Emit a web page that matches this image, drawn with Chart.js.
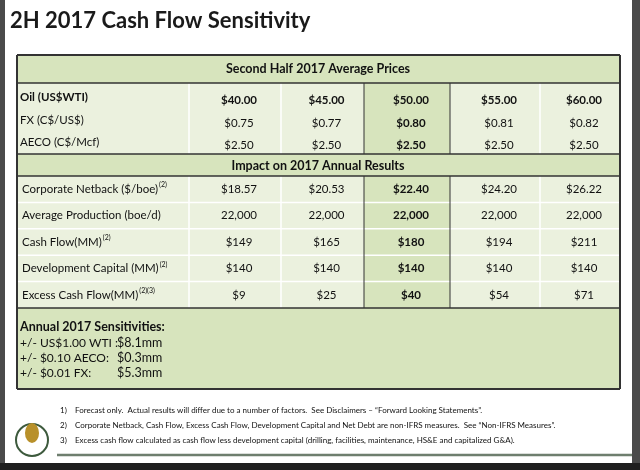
<!DOCTYPE html><html><head><meta charset="utf-8">
<script src="https://cdn.jsdelivr.net/npm/chart.js@4"></script>
<style>html,body{margin:0;padding:0;background:#fff}canvas{display:block}</style></head><body>
<canvas id="c" width="640" height="470"></canvas>
<script>
const title = '2H 2017 Cash Flow Sensitivity';
const header1 = 'Second Half 2017 Average Prices';
const header2 = 'Impact on 2017 Annual Results';
const priceLabels = ['Oil (US$WTI)', 'FX (C$/US$)', 'AECO (C$/Mcf)'];
const oil = ['$40.00', '$45.00', '$50.00', '$55.00', '$60.00'];
const fx = ['$0.75', '$0.77', '$0.80', '$0.81', '$0.82'];
const aeco = ['$2.50', '$2.50', '$2.50', '$2.50', '$2.50'];
const resultLabels = ['Corporate Netback ($/boe)', 'Average Production (boe/d)', 'Cash Flow(MM)', 'Development Capital (MM)', 'Excess Cash Flow(MM)'];
const resultSups = ['(2)', '', '(2)', '(2)', '(2)(3)'];
const netback = ['$18.57', '$20.53', '$22.40', '$24.20', '$26.22'];
const production = ['22,000', '22,000', '22,000', '22,000', '22,000'];
const cashFlow = ['$149', '$165', '$180', '$194', '$211'];
const devCapital = ['$140', '$140', '$140', '$140', '$140'];
const excessCF = ['$9', '$25', '$40', '$54', '$71'];
const sensTitle = 'Annual 2017 Sensitivities:';
const sensLabels = ['+/- US$1.00 WTI :', '+/- $0.10 AECO:', '+/- $0.01 FX:'];
const sensValues = ['$8.1mm', '$0.3mm', '$5.3mm'];
const footnotes = ['Forecast only.  Actual results will differ due to a number of factors.  See Disclaimers – “Forward Looking Statements”.',
 'Corporate Netback, Cash Flow, Excess Cash Flow, Development Capital and Net Debt are non-IFRS measures.  See “Non-IFRS Measures”.',
 'Excess cash flow calculated as cash flow less development capital (drilling, facilities, maintenance, HS&E and capitalized G&A).'];

const colEdges = [17, 189, 281, 364, 450, 540, 620];
const F = 'Lato, "Open Sans", sans-serif';

const tablePlugin = {
  id: 'table',
  afterDraw(chart) {
    const ctx = chart.ctx, sx = chart.scales.x, sy = chart.scales.y;
    const X = v => sx.getPixelForValue(v), Y = v => sy.getPixelForValue(v);
    const rect = (x0, y0, x1, y1, c) => { ctx.fillStyle = c; ctx.fillRect(X(x0), Y(y0), X(x1) - X(x0), Y(y1) - Y(y0)); };
    const text = (t, x, y, font, align, color) => { ctx.font = font; ctx.textAlign = align || 'left'; ctx.textBaseline = 'middle'; ctx.fillStyle = color || '#111'; ctx.fillText(t, X(x), Y(y)); };
    const hline = (x0, x1, y, c, w) => { ctx.strokeStyle = c; ctx.lineWidth = w; ctx.beginPath(); ctx.moveTo(X(x0), Y(y)); ctx.lineTo(X(x1), Y(y)); ctx.stroke(); };
    const vline = (x, y0, y1, c, w) => { ctx.strokeStyle = c; ctx.lineWidth = w; ctx.beginPath(); ctx.moveTo(X(x), Y(y0)); ctx.lineTo(X(x), Y(y1)); ctx.stroke(); };
    ctx.save();
    rect(0, 0, 5, 470, '#4a4a4a'); rect(632, 0, 640, 470, '#4a4a4a');
    rect(0, 463, 640, 470, '#1f1f1f');
    text(title, 10, 21, 'bold 22px ' + F, 'left', '#1a1a1a');
    const hdr = '#d7e4bd', body = '#ebf1de';
    rect(17, 55, 620, 83, hdr);
    text(header1, 318, 69, 'bold 12.5px ' + F, 'center');
    rect(17, 83, 620, 154, body); rect(364, 83, 450, 154, hdr);
    const prows = [oil, fx, aeco], py = [100, 123, 145];
    prows.forEach((arr, r) => {
      text(priceLabels[r], 20, py[r] - 3, (r === 0 ? 'bold ' : '') + '11.5px ' + F);
      arr.forEach((v, i) => text(v, (colEdges[i + 1] + colEdges[i + 2]) / 2 + 4, py[r], ((r === 0 || i === 2) ? 'bold ' : '') + '11.5px ' + F, 'center'));
    });
    rect(17, 154, 620, 176, hdr);
    text(header2, 318, 166, 'bold 12.5px ' + F, 'center');
    const rrows = [netback, production, cashFlow, devCapital, excessCF];
    const rh = 26.4;
    rect(17, 176, 620, 308, body); rect(364, 176, 450, 308, hdr);
    rrows.forEach((arr, r) => {
      const yc = 176 + rh * r + rh / 2;
      if (r > 0) hline(17, 620, 176 + rh * r, '#ffffff', 1.5);
      ctx.font = '11.5px ' + F;
      const w = ctx.measureText(resultLabels[r]).width;
      text(resultLabels[r], 22, yc, '11.5px ' + F);
      if (resultSups[r]) { ctx.font = '7px ' + F; ctx.textAlign = 'left'; ctx.textBaseline = 'middle'; ctx.fillText(resultSups[r], X(22) + w + 1, Y(yc - 4)); }
      arr.forEach((v, i) => text(v, (colEdges[i + 1] + colEdges[i + 2]) / 2 + 4, yc, (i === 2 ? 'bold ' : '') + '11.5px ' + F, 'center'));
    });
    for (let i = 1; i < 6; i++) {
      const dark = (i === 3 || i === 4);
      vline(colEdges[i], 83, 154, dark ? '#333' : '#ffffff', dark ? 1 : 1.5);
      vline(colEdges[i], 176, 308, dark ? '#333' : '#ffffff', dark ? 1 : 1.5);
    }
    rect(17, 308, 620, 389, hdr);
    text(sensTitle, 20, 327, 'bold 12.5px ' + F);
    sensLabels.forEach((l, i) => { text(l, 20, 343 + i * 15, '12px ' + F); text(sensValues[i], 117, 343 + i * 15, '12.5px ' + F); });
    [55, 83, 154, 176, 308, 389].forEach(y => hline(17, 620, y, '#333', y === 55 || y === 389 ? 2 : 1.3));
    vline(17, 55, 389, '#333', 2); vline(620, 55, 389, '#333', 2);
    footnotes.forEach((f, i) => { text((i + 1) + ')', 60, 410 + i * 15, '8px ' + F); text(f, 75, 410 + i * 15, '8px ' + F); });
    hline(57, 632, 455, '#6e7e6e', 2.5);
    ctx.strokeStyle = '#3d5a3d'; ctx.lineWidth = 2; ctx.beginPath(); ctx.arc(X(32), Y(440), 16, 0, Math.PI * 2); ctx.stroke();
    ctx.fillStyle = '#b8902a'; ctx.beginPath(); ctx.ellipse(X(32), Y(433), 7, 10, 0, 0, Math.PI * 2); ctx.fill();
    ctx.restore();
  }
};

new Chart(document.getElementById('c'), {
  type: 'scatter',
  data: { datasets: [{ data: [] }] },
  options: {
    responsive: false, animation: false, events: [],
    layout: { padding: 0 },
    plugins: { legend: { display: false }, tooltip: { enabled: false } },
    scales: {
      x: { type: 'linear', min: 0, max: 640, display: false },
      y: { type: 'linear', min: 0, max: 470, reverse: true, display: false }
    }
  },
  plugins: [tablePlugin]
});
</script></body></html>
